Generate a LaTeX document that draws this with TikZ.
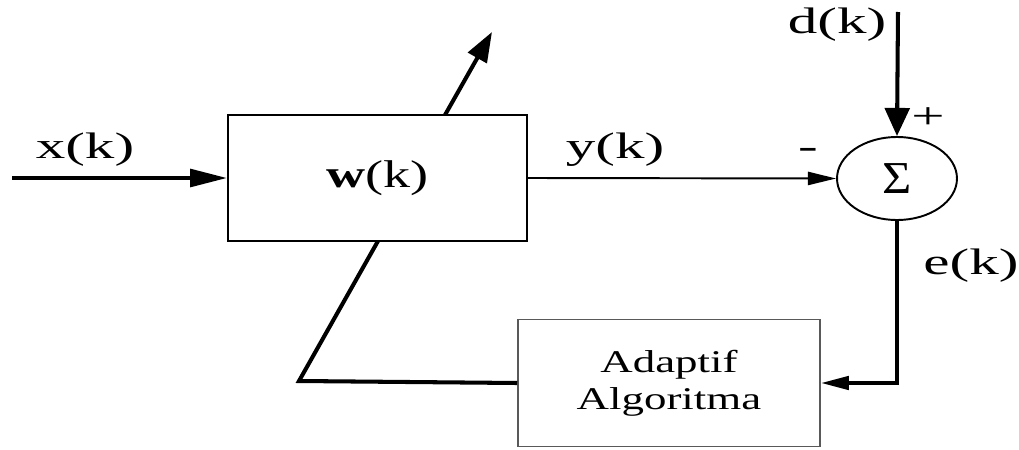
\documentclass[tikz,border=0pt]{standalone}
\usepackage{fontspec}
\setmainfont{Liberation Serif}
\usetikzlibrary{arrows.meta,shapes.geometric}
\newcommand{\widetxt}[2][1.6]{\scalebox{#1}[1]{#2}}

\begin{document}
\begin{tikzpicture}[x=0.02cm,y=-0.02cm,
  sig/.style={line width=2.3pt},
  lsig/.style={line width=1.1pt},
  htip/.style={-{Triangle[length=21pt,width=10pt]}},
  stip/.style={-{Triangle[length=16pt,width=7.5pt]}},
  vtip/.style={-{Triangle[length=16pt,width=14pt]}},
  dtip/.style={-{Triangle[length=17pt,width=12pt]}},
  lbl/.style={font=\fontsize{21}{24}\selectfont, inner sep=0pt}]
\useasboundingbox (0,0) rectangle (1019,450);
%\draw[step=50,gray,very thin] (0,0) grid (1019,450);
\node[draw, line width=1.1pt, inner sep=0pt, minimum width=5.98cm, minimum height=2.52cm] (filt) at (377.5,178) {\widetxt[1.4]{\fontsize{22}{25}\selectfont$\mathbf{w}$(k)}};
\node[draw, gray!70!black, line width=0.9pt, inner sep=0pt, minimum width=6.04cm, minimum height=2.54cm, align=center, text=black, font=\fontsize{18}{21}\selectfont] (alg) at (669,383) {\widetxt[1.42]{Adaptif}\\ \widetxt[1.42]{Algoritma}};
\node[draw, ellipse, line width=1.1pt, inner sep=0pt, minimum width=2.4cm, minimum height=1.66cm, font=\fontsize{26}{30}\selectfont] (sum) at (897,178.5) {\widetxt[1.1]{Σ}};
\node[lbl] (xlab) at (85,150) {\widetxt{x(k)}};
\node[lbl] (ylab) at (615,150) {\widetxt{y(k)}};
\node[lbl] (dlab) at (837,25) {\widetxt{d(k)}};
\node[lbl] (elab) at (971,266) {\widetxt{e(k)}};
\node[lbl] (plus) at (928,118) {\widetxt{+}};
\node[lbl] (minus) at (808,153) {\widetxt{-}};
\coordinate (xin) at (12,178);
\coordinate (din) at (898,12);
\coordinate (wtop) at (445,115);
\coordinate (wend) at (492,32);
\coordinate (wbot) at (378,241);
\coordinate (fbk) at (299,381);
\draw[sig,htip] (xin) -- (filt.west);
\draw[lsig,stip] (filt.east) -- (sum.west);
\draw[sig,vtip] (din) -- (sum.north);
\draw[sig,stip] (sum.south) |- (alg.east);
\draw[sig,dtip] (wtop) -- (wend);
\draw[sig] (alg.west) -- (fbk) -- (wbot);
\end{tikzpicture}
\end{document}
